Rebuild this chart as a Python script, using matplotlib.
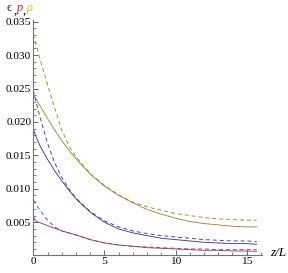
import matplotlib
matplotlib.use("Agg")
import matplotlib.pyplot as plt
from matplotlib.ticker import MultipleLocator, FixedLocator

# z/L sample positions
z = [0, 0.1, 0.25, 0.5, 1, 1.5, 2, 2.5, 3, 4, 5, 6, 7, 8, 9, 10, 11, 12, 13, 14, 15, 15.7]

# epsilon (blue), solid and dashed
eps_solid = [0.0190, 0.0183, 0.0175, 0.0163, 0.0144, 0.0127, 0.0112, 0.0098, 0.0085, 0.0065, 0.0050,
             0.0040, 0.0034, 0.0030, 0.0026, 0.0024, 0.0022, 0.0020, 0.0019, 0.0018, 0.0018, 0.0017]
eps_dash = [0.0247, 0.0238, 0.0225, 0.0205, 0.0168, 0.0139, 0.0117, 0.0100, 0.0086, 0.0066, 0.0052,
            0.0043, 0.0037, 0.0033, 0.0030, 0.0028, 0.0026, 0.0024, 0.0023, 0.0022, 0.0022, 0.0021]
# p (magenta)
p_solid = [0.0059, 0.0054, 0.0051, 0.0049, 0.0045, 0.0041, 0.0037, 0.0034, 0.0031, 0.0024, 0.0019,
           0.0016, 0.0014, 0.0012, 0.0011, 0.0010, 0.0009, 0.0008, 0.0008, 0.0007, 0.0007, 0.00065]
p_dash = [0.0083, 0.0080, 0.0075, 0.0067, 0.0053, 0.0043, 0.0037, 0.0034, 0.0031, 0.0024, 0.0019,
          0.0016, 0.0014, 0.0013, 0.0012, 0.0011, 0.0010, 0.0010, 0.0009, 0.0009, 0.0009, 0.0009]
# rho (olive)
rho_solid = [0.0241, 0.0237, 0.0232, 0.0223, 0.0205, 0.0188, 0.0172, 0.0158, 0.0145, 0.0122, 0.0104,
             0.0090, 0.0079, 0.0069, 0.0062, 0.0056, 0.0051, 0.0048, 0.0046, 0.0044, 0.0043, 0.0043]
rho_dash = [0.0331, 0.0323, 0.0311, 0.0292, 0.0256, 0.0221, 0.0188, 0.0164, 0.0148, 0.0123, 0.0105,
            0.0091, 0.0080, 0.0073, 0.0068, 0.0063, 0.0060, 0.0057, 0.0055, 0.0054, 0.0053, 0.0053]

blue = (0.24, 0.24, 0.6)
mag = (0.6, 0.24, 0.4428)
olive = (0.6, 0.547, 0.24)

plt.rcParams['font.family'] = ['Liberation Serif', 'DejaVu Serif']

fig = plt.figure(figsize=(2.88, 2.73), dpi=100)
ax = fig.add_axes([0.1157, 0.066, 0.795, 0.862])

lw = 0.65
dash = (4.4, 3.3)
ax.plot(z, rho_solid, color=olive, lw=lw)
ax.plot(z, rho_dash, color=olive, lw=lw, dashes=dash)
ax.plot(z, eps_solid, color=blue, lw=lw)
ax.plot(z, eps_dash, color=blue, lw=lw, dashes=dash)
ax.plot(z, p_solid, color=mag, lw=lw)
ax.plot(z, p_dash, color=mag, lw=lw, dashes=dash)

ax.set_xlim(0, 16.1)
ax.set_ylim(0.0001, 0.0353)

for s in ['top', 'right']:
    ax.spines[s].set_visible(False)
for s in ['left', 'bottom']:
    ax.spines[s].set_color('0.45')
    ax.spines[s].set_linewidth(0.8)

ax.xaxis.set_major_locator(FixedLocator([0, 5, 10, 15]))
ax.xaxis.set_minor_locator(MultipleLocator(1))
ax.yaxis.set_major_locator(FixedLocator([0.005, 0.010, 0.015, 0.020, 0.025, 0.030, 0.035]))
ax.yaxis.set_minor_locator(MultipleLocator(0.001))
ax.set_yticklabels(['0.005', '0.010', '0.015', '0.020', '0.025', '0.030', '0.035'])
ax.set_xticklabels(['0', '5', '10', '15'])
ax.tick_params(which='major', direction='in', length=3.5, width=0.6, color='0.3', labelsize=8.2, pad=1.5)
ax.tick_params(which='minor', direction='in', length=2, width=0.5, color='0.3')

fig.text(0.965, 0.072, 'z/L', fontsize=9.5, style='italic', ha='center', va='center')
fig.text(0.032, 0.972, '\u03f5', color=(0.1, 0.1, 0.8), fontsize=9, ha='center', va='center')
fig.text(0.051, 0.962, ',', fontsize=9, ha='center', va='center')
fig.text(0.068, 0.970, 'p', color=(0.85, 0.1, 0.1), fontsize=9, style='italic', ha='center', va='center')
fig.text(0.085, 0.962, ',', fontsize=9, ha='center', va='center')
fig.text(0.101, 0.972, '\u03c1', color=(0.85, 0.75, 0.1), fontsize=9, style='italic', ha='center', va='center')

fig.savefig("out.png", dpi=100)
